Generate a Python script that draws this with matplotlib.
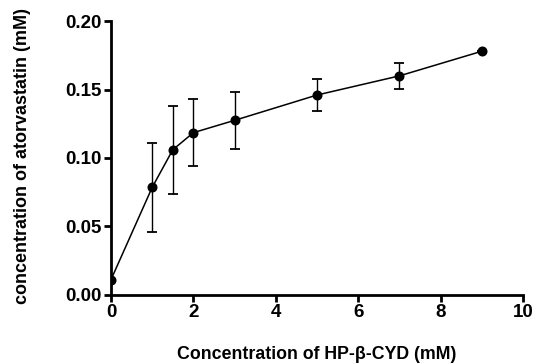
import matplotlib
matplotlib.use("Agg")
import matplotlib.pyplot as plt

plt.rcParams['font.family'] = ['Liberation Sans', 'DejaVu Sans']

conc_cyd = [0, 1, 1.5, 2, 3, 5, 7, 9]
conc_ator = [0.011, 0.0785, 0.106, 0.1185, 0.1275, 0.146, 0.160, 0.178]
err = [0.0, 0.0325, 0.032, 0.0247, 0.021, 0.012, 0.0097, 0.0]
xticks = [0, 2, 4, 6, 8, 10]
yticks = [0.00, 0.05, 0.10, 0.15, 0.20]

fig = plt.figure(figsize=(5.36, 3.64), dpi=100)
ax = fig.add_axes([0.207, 0.19, 0.769, 0.752])

ax.errorbar(conc_cyd, conc_ator, yerr=err, fmt='o-', color='black',
            markersize=6.2, linewidth=1.1, elinewidth=1.0, capsize=3.3, capthick=1.3)

ax.set_xlim(0, 10)
ax.set_ylim(0, 0.20)
ax.set_xticks(xticks)
ax.set_xticklabels([str(t) for t in xticks])
ax.set_yticks(yticks)
ax.set_yticklabels([f"{t:.2f}" for t in yticks])

for s in ['top', 'right']:
    ax.spines[s].set_visible(False)
for s in ['left', 'bottom']:
    ax.spines[s].set_linewidth(2)
ax.tick_params(width=2, length=5, direction='out', labelsize=13.5, pad=1.5)
for lab in ax.get_xticklabels() + ax.get_yticklabels():
    lab.set_fontweight('bold')

ax.set_xlabel('Concentration of HP-β-CYD (mM)', fontsize=12.8, fontweight='bold')
ax.set_ylabel('concentration of atorvastatin (mM)', fontsize=13, fontweight='bold')
ax.xaxis.set_label_coords(0.498, -0.188)
ax.yaxis.set_label_coords(-0.193, 0.509)
ax.patch.set_visible(False)

fig.savefig('out.png', dpi=100)
